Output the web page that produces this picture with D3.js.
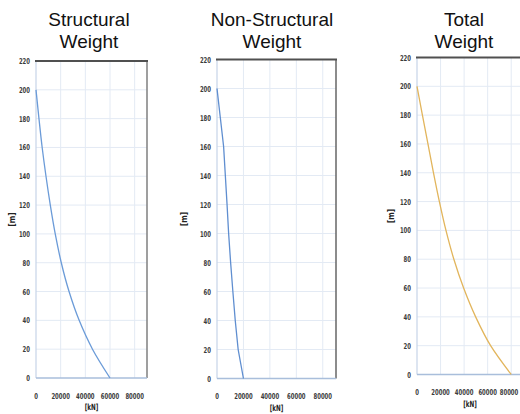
<!DOCTYPE html>
<html>
<head>
<meta charset="utf-8">
<script src="https://cdn.jsdelivr.net/npm/d3@7"></script>
<style>
  body { margin: 0; background: #ffffff; }
  svg { display: block; }
</style>
</head>
<body>
<script>
// height above ground [m]
var heights = [0, 20, 40, 60, 80, 100, 120, 140, 160, 180, 200];

// weight above each height [kN]
var structuralKN    = [60000, 45800, 35000, 26800, 20500, 15600, 11600, 8100, 5000, 2400, 0];
var nonStructuralKN = [20000, 16000, 13800, 12000, 10300, 8800, 7600, 6300, 5000, 2500, 0];
var totalKN         = [80000, 62500, 49800, 39600, 31300, 24600, 19000, 14000, 9300, 4600, 0];

var titles = [["Structural", "Weight"], ["Non-Structural", "Weight"], ["Total", "Weight"]];
var xTicks = [0, 20000, 40000, 60000, 80000];
var yTicks = [0, 20, 40, 60, 80, 100, 120, 140, 160, 180, 200, 220];

var X_MAX = 90000;
var Y_MAX = 220;

var WIDTH = 520;
var HEIGHT = 414;

var GRID_COLOR = "#e3eaf4";
var TICK_FONT = "'DejaVu Sans Condensed', 'Liberation Sans', sans-serif";
var SQUEEZE = 0.74;   // horizontal squeeze, like the narrow Excel font

var svg = d3.select("body").append("svg")
            .attr("width", WIDTH)
            .attr("height", HEIGHT);

function squeezed(sel, size, color)
{
  sel.style("font-family", TICK_FONT)
     .style("font-size", size)
     .style("font-weight", "bold")
     .style("fill", color);
}

function setupPanel(p)
{
  var x = d3.scaleLinear().domain([0, X_MAX]).range([p.left, p.right]);
  var y = d3.scaleLinear().domain([0, Y_MAX]).range([p.bottom, p.top]);

  var g = svg.append("g");

  // title, two lines
  g.append("text")
    .attr("x", p.titleX)
    .attr("y", 26)
    .attr("text-anchor", "middle")
    .style("font-family", "'Liberation Sans', Arial, sans-serif")
    .style("font-size", "19px")
    .style("fill", "#111")
    .selectAll("tspan")
    .data(p.title)
    .enter().append("tspan")
    .attr("x", p.titleX)
    .attr("dy", function(d, i) { return i == 0 ? 0 : 22; })
    .text(function(d) { return d; });

  // grid
  g.append("g").selectAll("line")
    .data(yTicks.slice(1, -1))
    .enter().append("line")
    .attr("x1", p.left).attr("x2", p.right)
    .attr("y1", function(d) { return y(d); })
    .attr("y2", function(d) { return y(d); })
    .style("stroke", GRID_COLOR)
    .style("stroke-width", 1);

  g.append("g").selectAll("line")
    .data(xTicks.slice(1))
    .enter().append("line")
    .attr("x1", function(d) { return x(d); })
    .attr("x2", function(d) { return x(d); })
    .attr("y1", p.top).attr("y2", p.bottom)
    .style("stroke", GRID_COLOR)
    .style("stroke-width", 1);

  // frame
  g.append("line")
    .attr("x1", p.left).attr("x2", p.left)
    .attr("y1", p.top).attr("y2", p.bottom)
    .style("stroke", "#c6d4e8")
    .style("stroke-width", 1.2);
  g.append("line")
    .attr("x1", p.right).attr("x2", p.right)
    .attr("y1", p.top).attr("y2", p.bottom)
    .style("stroke", p.rightColor)
    .style("stroke-width", 1.5);
  g.append("line")
    .attr("x1", p.left).attr("x2", p.right)
    .attr("y1", p.bottom).attr("y2", p.bottom)
    .style("stroke", "#a9bedb")
    .style("stroke-width", 1.5);
  g.append("line")
    .attr("x1", p.left - 1).attr("x2", p.right + 1)
    .attr("y1", p.top).attr("y2", p.top)
    .style("stroke", "#505050")
    .style("stroke-width", 2.2);

  // y tick labels
  g.append("g").selectAll("text")
    .data(yTicks)
    .enter().append("text")
    .attr("transform", function(d) {
      return "translate(" + (p.left - 6) + "," + (y(d) + 3) + ") scale(" + SQUEEZE + ",1)";
    })
    .attr("text-anchor", "end")
    .call(squeezed, "8px", "#3a3a3a")
    .text(function(d) { return d; });

  // x tick labels, the last one is kept inside the window
  g.append("g").selectAll("text")
    .data(xTicks)
    .enter().append("text")
    .attr("transform", function(d) {
      var cx = Math.min(x(d), WIDTH - 11);
      return "translate(" + cx + "," + (p.bottom + 20.5) + ") scale(" + SQUEEZE + ",1)";
    })
    .attr("text-anchor", "middle")
    .call(squeezed, "8px", "#3a3a3a")
    .text(function(d) { return d; });

  // axis titles
  g.append("text")
    .attr("transform", "translate(" + ((p.left + p.right) / 2) + "," + (p.bottom + 32) + ") scale(" + SQUEEZE + ",1)")
    .attr("text-anchor", "middle")
    .call(squeezed, "8.5px", "#222")
    .text("[kN]");

  g.append("text")
    .attr("transform", "translate(" + (p.left - p.mOffset) + "," + ((p.top + p.bottom) / 2) + ") rotate(-90)")
    .attr("text-anchor", "middle")
    .call(squeezed, "8px", "#222")
    .text("[m]");

  // curve
  var line = d3.line()
    .x(function(d) { return x(d[0]); })
    .y(function(d) { return y(d[1]); })
    .curve(p.curve);

  g.append("path")
    .datum(d3.zip(p.values, heights))
    .attr("d", line)
    .style("fill", "none")
    .style("stroke", p.color)
    .style("stroke-width", 1.3);
}

setupPanel({ title: titles[0], values: structuralKN, color: "#6b9bd8",
             left: 36, right: 147, top: 61, bottom: 378,
             titleX: 89, mOffset: 21, rightColor: "#7f7f7f", curve: d3.curveMonotoneY });
setupPanel({ title: titles[1], values: nonStructuralKN, color: "#5f8ed0",
             left: 217, right: 336, top: 59.5, bottom: 378.5,
             titleX: 272, mOffset: 30, rightColor: "#666666", curve: d3.curveLinear });
setupPanel({ title: titles[2], values: totalKN, color: "#e2b55c",
             left: 417, right: 523, top: 57.5, bottom: 374.5,
             titleX: 464, mOffset: 23, rightColor: "#666666", curve: d3.curveMonotoneY });
</script>
</body>
</html>
